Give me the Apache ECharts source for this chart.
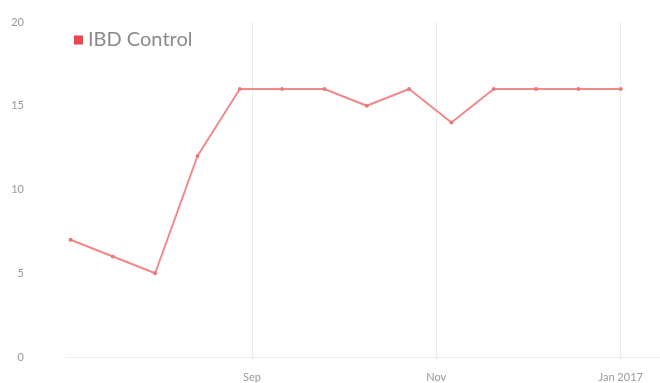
<!DOCTYPE html>
<html>
<head>
<meta charset="utf-8">
<script src="https://cdn.jsdelivr.net/npm/echarts@6/dist/echarts.min.js"></script>
<style>
  html, body { margin: 0; padding: 0; background: #ffffff; }
  #chart { width: 660px; height: 383px; }
</style>
</head>
<body>
<div id="chart"></div>
<script>
// Fortnightly IBD control readings
const dates = [
  '2016-07-03', '2016-07-17', '2016-07-31', '2016-08-14', '2016-08-28',
  '2016-09-11', '2016-09-25', '2016-10-09', '2016-10-23', '2016-11-06',
  '2016-11-20', '2016-12-04', '2016-12-18', '2017-01-01'
];
const ibdControl = [7, 6, 5, 12, 16, 16, 16, 15, 16, 14, 16, 16, 16, 16];

// Labelled x-axis ticks
const tickDates = ['2016-09-01', '2016-11-01', '2017-01-01'];
const tickLabels = ['Sep', 'Nov', 'Jan 2017'];

// Y-axis ticks
const yTicks = [0, 5, 10, 15, 20];

const DAY = 24 * 3600 * 1000;
const ts = d => new Date(d + 'T00:00:00Z').getTime();
const tickTimes = tickDates.map(ts);

const chart = echarts.init(document.getElementById('chart'));
chart.setOption({
  animation: false,
  textStyle: { fontFamily: 'Lato' },
  grid: { left: 66, right: 0, top: 22, bottom: 26, containLabel: false },
  legend: {
    left: 69, top: 25,
    icon: 'rect', itemWidth: 9, itemHeight: 9, itemGap: 6,
    textStyle: { fontFamily: 'Lato', fontSize: 20, color: '#8a8a8a' },
    data: [{ name: 'IBD Control', itemStyle: { color: '#e8474f' } }]
  },
  xAxis: {
    // time values on a linear axis, so ticks can sit on chosen dates
    type: 'value',
    min: ts('2016-07-01') + DAY / 2,
    max: ts('2017-01-14'),
    axisLine: { show: true, lineStyle: { color: '#ececec', width: 1 } },
    axisTick: {
      show: true, length: 4, customValues: tickTimes,
      lineStyle: { color: '#ececec' }
    },
    axisLabel: {
      customValues: tickTimes,
      color: '#999999', fontSize: 11, margin: 15,
      formatter: v => {
        const i = tickTimes.indexOf(v);
        return i >= 0 ? tickLabels[i] : '';
      }
    },
    splitLine: { show: true, lineStyle: { color: '#ececec', width: 1 } }
  },
  yAxis: {
    type: 'value',
    min: yTicks[0], max: yTicks[yTicks.length - 1], interval: 5,
    axisLine: { show: false },
    axisTick: { show: false },
    splitLine: { show: false },
    axisLabel: { color: '#999999', fontSize: 11, margin: 42 }
  },
  series: [{
    name: 'IBD Control',
    type: 'line',
    data: dates.map((d, i) => [ts(d), ibdControl[i]]),
    symbol: 'circle',
    symbolSize: 4,
    lineStyle: { color: '#f08a8a', width: 2 },
    itemStyle: { color: '#e97a7a' }
  }]
});
</script>
</body>
</html>
